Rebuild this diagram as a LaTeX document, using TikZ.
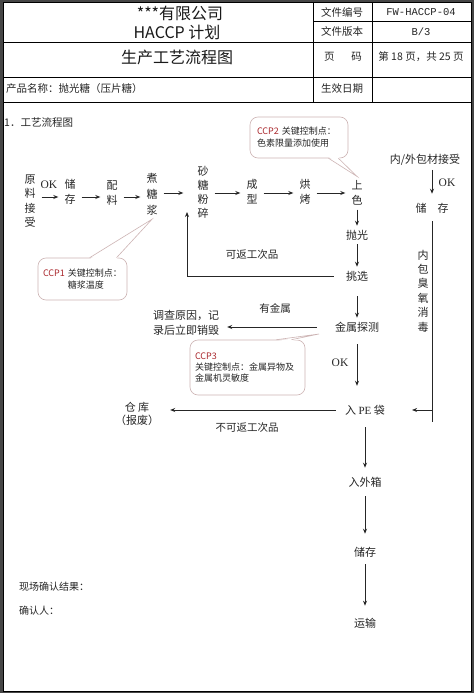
\documentclass[tikz,border=0pt]{standalone}
\usepackage{fontspec}
\setmainfont{Noto Sans CJK SC}
\newfontfamily\latin{Liberation Serif}
\newfontfamily\mono{Liberation Mono}
\usetikzlibrary{arrows.meta,calc}
\newcommand\setfz[2]{\fontsize{#1}{#2}\selectfont}
\definecolor{ccpred}{RGB}{170,40,45}
\definecolor{callgray}{RGB}{205,180,180}
\definecolor{framegray}{RGB}{70,70,70}

\begin{document}
\begin{tikzpicture}[x=1pt,y=-1pt]
    \tikzset{
    ftxt/.style={font=\setfz{11}{15}, align=center, inner xsep=6pt, inner ysep=4pt, text=black!85},
    ltxt/.style={font=\setfz{10.5}{13}, inner sep=0pt, text=black!85},
    htxt/.style={font=\setfz{16}{18}, inner sep=0pt, text=black!90},
    okt/.style={font=\latin\setfz{11.5}{13}, inner sep=0pt, text=black!85},
    arr/.style={-{Stealth[length=5pt,width=4pt]}, line width=0.8pt, black!85},
    callbox/.style={draw=callgray, line width=0.6pt, fill=white, rounded corners=8pt,
        font=\setfz{9}{12}, align=left, inner sep=5pt, text=black!85},
    callline/.style={draw=callgray, line width=0.6pt},
    }
    \useasboundingbox (0,0) rectangle (474,693);
    \fill[framegray] (0,0) rectangle (474,693);
    \fill[white] (3,2) rectangle (471,691);

    % header table
    \draw[line width=0.8pt] (3,2) rectangle (471,691);
    \draw[line width=0.8pt] (313,2) -- (313,102) (372,2) -- (372,102);
    \draw[line width=0.8pt] (313,21) -- (471,21) (3,42) -- (471,42) (3,77) -- (471,77) (3,102) -- (471,102);
    \node[htxt] (co) at (180,13) {***有限公司};
    \node[htxt] (pl) at (177,32) {HACCP 计划};
    \node[htxt] (tt) at (177,57) {生产工艺流程图};
    \node[ltxt] (k1) at (342,12) {文件编号};
    \node[ltxt] (k2) at (342,32) {文件版本};
    \node[ltxt] (k3) at (343,57) {页\hspace{1.6em}码};
    \node[ltxt] (k4) at (342,89) {生效日期};
    \node[ltxt, font=\mono\setfz{10.5}{12}] (v1) at (421,12) {FW-HACCP-04};
    \node[ltxt, font=\mono\setfz{10.5}{12}] (v2) at (421,32) {B/3};
    \node[ltxt] (v3) at (421,57) {第 18 页，共 25 页};
    \node[ltxt, anchor=west] (pn) at (6,89) {产品名称：抛光糖（压片糖）};

    \node[ltxt, anchor=west] (ti) at (4,123) {1．工艺流程图};

    % main line
    \node[ftxt, font=\setfz{11}{14.5}] (yl) at (30,201) {原\\料\\接\\受};
    \node[ftxt] (cc1) at (70,192) {储\\存};
    \node[ftxt] (pl1) at (112,193) {配\\料};
    \node[ftxt, font=\setfz{11}{16}] (zt) at (152,194) {煮\\糖\\浆};
    \node[ftxt, font=\setfz{11}{14}] (ft) at (203,192) {砂\\糖\\粉\\碎};
    \node[ftxt] (cx) at (252,192) {成\\型};
    \node[ftxt] (hk) at (305,192) {烘\\烤};
    \node[ftxt] (ss) at (357,193) {上\\色};
    \node[ftxt] (pg) at (357,235) {抛光};
    \node[ftxt] (tx) at (357,276) {挑选};
    \node[ftxt] (js) at (357,327) {金属探测};
    \node[ftxt] (dc) at (186,323) {调查原因，记\\录后立即销毁};
    \node[ftxt] (rpe) at (365,410) {入 {\latin PE} 袋};
    \node[ftxt, font=\setfz{11}{13}] (ck) at (137,414) {仓 库\\（报废）};
    \node[ftxt] (rwx) at (365,482) {入外箱};
    \node[ftxt] (cc2) at (365,552) {储存};
    \node[ftxt] (ys) at (365,623) {运输};

    % packaging line
    \node[ftxt] (bc) at (425,160) {内/外包材接受};
    \node[ftxt] (cc3) at (432,208) {储\hspace{1em}存};
    \node[ftxt, font=\setfz{11}{14.4}] (ox) at (423,291) {内\\包\\臭\\氧\\消\\毒};

    % labels
    \node[okt] (ok1) at (49,185) {OK};
    \node[okt] (ok2) at (340,363) {OK};
    \node[okt] (ok3) at (447,183) {OK};
    \node[ltxt] (fg) at (252,255) {可返工次品};
    \node[ltxt] (yj) at (275,308) {有金属};
    \node[ltxt] (bk) at (247,428) {不可返工次品};
    \node[ltxt, font=\setfz{10}{12}, anchor=west] (xc) at (19,587) {现场确认结果：};
    \node[ltxt, font=\setfz{10}{12}, anchor=west] (qr) at (19,611) {确认人：};

    % arrows
    \coordinate (r1) at (0,197);
    \coordinate (r2) at (0,193);
    \draw[arr] (yl.east |- r1) -- (cc1.west |- r1);
    \draw[arr] (cc1.east |- r1) -- (pl1.west |- r1);
    \draw[arr] (pl1.east |- r1) -- (zt.west |- r1);
    \draw[arr, shorten >=8pt] (zt.east |- r2) -- (ft.west |- r2);
    \draw[arr] (ft.east |- r2) -- (cx.west |- r2);
    \draw[arr] (cx.east |- r2) -- (hk.west |- r2);
    \draw[arr] (hk.east |- r2) -- (ss.west |- r2);
    \draw[arr] (ss.south) -- (pg.north);
    \draw[arr] (pg.south) -- (tx.north);
    \coordinate (lp) at (187,212);
    \draw[arr, shorten <=6pt] (tx.west) -| (lp);
    \draw[arr, shorten <=11pt] (tx.south) -- (js.north);
    \draw[arr, shorten <=12pt, shorten >=2pt] (js.west) -- (js.west -| dc.east);
    \draw[arr, shorten <=8pt, shorten >=15pt] (js.south) -- (js.south |- rpe.north);
    \draw[arr, shorten <=3pt, shorten >=5pt] (rpe.west) -- (rpe.west -| ck.east);
    \draw[arr, shorten <=8pt, shorten >=5pt] (rpe.south) -- (rwx.north);
    \draw[arr, shorten <=5pt, shorten >=9pt] (rwx.south) -- (cc2.north);
    \draw[arr, shorten <=3pt, shorten >=8pt] (cc2.south) -- (ys.north);
    \draw[arr, shorten >=5pt] (bc.south -| cc3.center) -- (cc3.north);
    \coordinate (vb) at (0,422);
    \draw[line width=0.8pt, black!85, shorten <=4pt] (cc3.south) -- (cc3.south |- vb);
    \draw[arr, shorten >=21pt] (cc3.south |- rpe.east) -- (rpe.east);

    % CCP callouts
    \node[callbox, minimum width=89pt, minimum height=42pt, text width=79pt] (ccp1) at (82.5,279)
        {\textcolor{ccpred}{CCP1} 关键控制点：\\\phantom{CCP1} 糖浆温度};
    \fill[white] ($(ccp1.north west)!0.58!(ccp1.north east)+(0,1.5)$) -- (zt.south)
        -- ($(ccp1.north west)!0.88!(ccp1.north east)+(0,1.5)$) -- cycle;
    \draw[callline] ($(ccp1.north west)!0.58!(ccp1.north east)$) -- (zt.south)
        -- ($(ccp1.north west)!0.88!(ccp1.north east)$);

    \node[callbox, minimum width=98pt, minimum height=41pt, inner xsep=7pt, text width=84pt] (ccp2) at (299,137.5)
        {\textcolor{ccpred}{CCP2} 关键控制点：\\色素限量添加使用};
    \fill[white] ($(ccp2.south west)!0.8!(ccp2.south east)+(0,-1.5)$) -- (ss.north)
        -- ($(ccp2.south west)!0.9!(ccp2.south east)+(0,-1.5)$) -- cycle;
    \draw[callline] ($(ccp2.south west)!0.8!(ccp2.south east)$) -- (ss.north)
        -- ($(ccp2.south west)!0.9!(ccp2.south east)$);

    \coordinate (t3) at (319,334);
    \node[callbox, font=\setfz{9}{11}, minimum width=115pt, minimum height=55pt, text width=105pt] (ccp3) at (247.5,367.5)
        {\textcolor{ccpred}{CCP3}\\关键控制点：金属异物及\\金属机灵敏度};
    \fill[white] ($(ccp3.north west)!0.75!(ccp3.north east)+(0,1.5)$) -- (t3)
        -- ($(ccp3.north west)!0.88!(ccp3.north east)+(0,1.5)$) -- cycle;
    \draw[callline] ($(ccp3.north west)!0.75!(ccp3.north east)$) -- (t3)
        -- ($(ccp3.north west)!0.88!(ccp3.north east)$);
\end{tikzpicture}
\end{document}
